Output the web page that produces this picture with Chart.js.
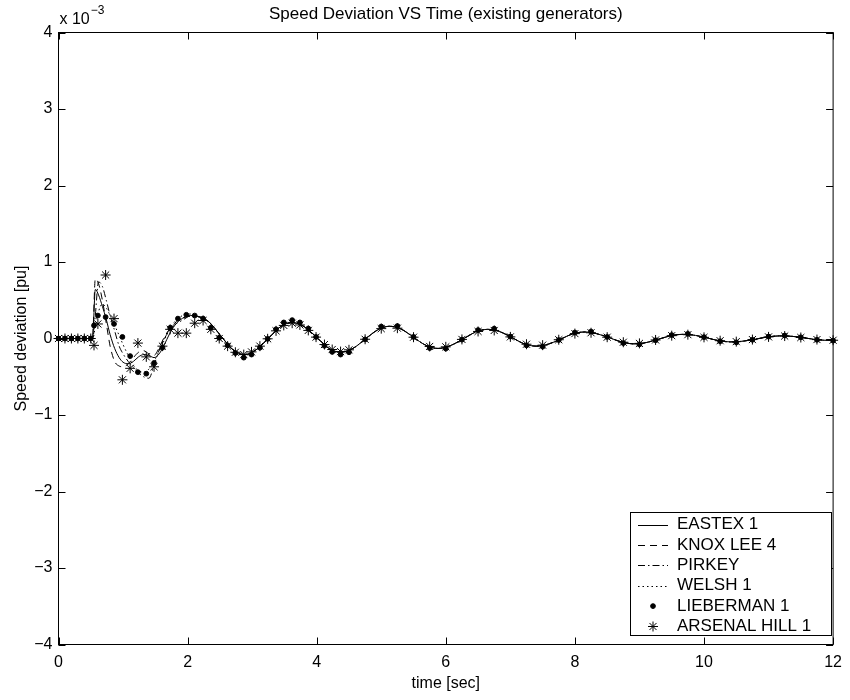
<!DOCTYPE html>
<html>
<head>
<meta charset="utf-8">
<script src="https://cdn.jsdelivr.net/npm/chart.js@4.4.1/dist/chart.umd.min.js"></script>
<style>
    html, body { margin: 0; padding: 0; background: #fff; }
</style>
</head>
<body>
<canvas id="speed-chart" width="850" height="700"></canvas>
<script>
// values in units of 1e-3 pu (axis carries the "x 10^-3" factor)
const headTime = [0, 0.5, 0.53, 0.57, 0.62, 0.68, 0.74, 0.8, 0.87, 0.94, 1.0, 1.08, 1.16, 1.24, 1.32, 1.4, 1.48, 1.56, 1.64, 1.72, 1.8, 1.88, 1.96, 2.05];
const eastexHead = [0, 0, 0.02, 0.64, 0.57, 0.42, 0.25, 0.05, -0.13, -0.25, -0.31, -0.33, -0.30, -0.24, -0.21, -0.22, -0.25, -0.20, -0.08, 0.06, 0.17, 0.24, 0.28, 0.30];
const knoxHead = [0, 0, 0.05, 0.78, 0.72, 0.50, 0.20, -0.10, -0.30, -0.36, -0.37, -0.33, -0.25, -0.18, -0.16, -0.20, -0.22, -0.12, 0.02, 0.12, 0.20, 0.25, 0.28, 0.29];
const pirkeyHead = [0, 0, 0, 0.30, 0.74, 0.68, 0.50, 0.30, 0.10, -0.10, -0.20, -0.30, -0.38, -0.45, -0.50, -0.52, -0.35, -0.15, 0.00, 0.10, 0.18, 0.22, 0.26, 0.30];
const welshHead = [0, 0, 0, 0.15, 0.35, 0.45, 0.40, 0.30, 0.17, 0.04, -0.08, -0.22, -0.35, -0.42, -0.44, -0.40, -0.30, -0.16, -0.02, 0.12, 0.22, 0.28, 0.31, 0.32];

// after ~2 s the four lines sit on top of each other
const tailTime = [2.15, 2.33, 2.51, 2.69, 2.87, 3.06, 3.25, 3.43, 3.62, 3.81, 4.0, 4.18, 4.37, 4.56, 4.75, 4.94, 5.13, 5.32, 5.5, 5.69, 5.88, 6.07, 6.27, 6.46, 6.65, 6.84, 7.03, 7.21, 7.4, 7.59, 7.78, 7.96, 8.15, 8.34, 8.54, 8.73, 8.92, 9.11, 9.3, 9.49, 9.68, 9.87, 10.06, 10.24, 10.43, 10.62, 10.82, 11.01, 11.2, 11.39, 11.58, 11.76, 11.95, 12.0];
const tailWave = [0.29, 0.217, 0.04, -0.137, -0.21, -0.148, 0, 0.148, 0.21, 0.153, 0.015, -0.123, -0.18, -0.13, -0.01, 0.11, 0.16, 0.118, 0.015, -0.088, -0.13, -0.093, -0.005, 0.083, 0.12, 0.088, 0.01, -0.068, -0.10, -0.073, -0.008, 0.058, 0.085, 0.062, 0.008, -0.047, -0.07, -0.052, -0.008, 0.037, 0.055, 0.04, 0.005, -0.03, -0.045, -0.033, -0.005, 0.023, 0.035, 0.026, 0.005, -0.016, -0.025, -0.024];

const markTime = [0, 0.1, 0.2, 0.3, 0.4, 0.5, 0.55, 0.61, 0.73, 0.86, 0.99, 1.11, 1.23, 1.36, 1.48, 1.61, 1.73, 1.85, 1.98, 2.11, 2.24, 2.36, 2.49, 2.62, 2.74, 2.87,
    2.99, 3.12, 3.24, 3.37, 3.49, 3.62, 3.74, 3.87, 3.99, 4.12, 4.24, 4.37, 4.5, 4.75, 5.0, 5.25, 5.5, 5.75, 6.0, 6.25, 6.5, 6.75, 7.0, 7.25, 7.5, 7.75, 8.0, 8.25, 8.5, 8.75, 9.0, 9.25, 9.5, 9.75, 10.0, 10.25, 10.5, 10.75, 11.0, 11.25, 11.5, 11.75, 12.0];
const liebermanVals = [0, 0, 0, 0, 0, 0, 0.17, 0.30, 0.28, 0.19, 0.02, -0.23, -0.44, -0.46, -0.32, -0.12, 0.14, 0.26, 0.31, 0.30, 0.26, 0.14, 0.01, -0.09, -0.19, -0.25,
    -0.21, -0.12, -0.005, 0.12, 0.21, 0.24, 0.21, 0.13, 0.02, -0.095, -0.175, -0.21, -0.18, -0.012, 0.156, 0.163, 0.02, -0.125, -0.132, -0.015, 0.11, 0.128, 0.025, -0.09, -0.106, -0.02, 0.077, 0.09, 0.02, -0.06, -0.077, -0.023, 0.045, 0.061, 0.018, -0.036, -0.05, -0.017, 0.025, 0.039, 0.016, -0.017, -0.028];
const arsenalVals = [0, 0, 0, 0, 0, 0, -0.09, 0.19, 0.83, 0.26, -0.54, -0.39, -0.06, -0.24, -0.37, -0.10, 0.12, 0.07, 0.07, 0.20, 0.235, 0.12, 0.0, -0.10, -0.18, -0.21,
    -0.175, -0.1, -0.004, 0.1, 0.171, 0.2, 0.177, 0.106, 0.018, -0.079, -0.144, -0.171, -0.148, -0.01, 0.129, 0.135, 0.017, -0.104, -0.109, -0.012, 0.092, 0.105, 0.021, -0.075, -0.087, -0.016, 0.064, 0.075, 0.017, -0.049, -0.064, -0.019, 0.037, 0.05, 0.015, -0.029, -0.041, -0.014, 0.021, 0.032, 0.013, -0.014, -0.023];

const xTicks = [0, 2, 4, 6, 8, 10, 12];
const yTicks = [-4, -3, -2, -1, 0, 1, 2, 3, 4];

const FONT = '"Liberation Sans", Arial, Helvetica, sans-serif';
const lineTime = headTime.concat(tailTime);

function lineSeries(label, head, dash) {
    const vals = head.concat(tailWave);
    return {
        label,
        data: lineTime.map((t, i) => ({ x: t, y: vals[i] })),
        borderColor: '#000',
        borderWidth: 1,
        borderDash: dash,
        pointRadius: 0,
        cubicInterpolationMode: 'monotone',
        fill: false,
    };
}

function markerSeries(label, vals, style, radius) {
    return {
        label,
        data: markTime.map((t, i) => ({ x: t, y: vals[i] })),
        showLine: false,
        pointStyle: style,
        pointRadius: radius,
        pointBorderWidth: 1,
        pointBackgroundColor: '#000',
        pointBorderColor: '#000',
        clip: false,
    };
}

const minus = (v) => String(v).replace('-', '\u2212');

// MATLAB style box with inward ticks, exponent label and legend
const matlabFrame = {
    id: 'matlabFrame',
    afterDatasetsDraw(chart) {
        const { ctx, chartArea: a, scales } = chart;
        ctx.save();
        ctx.strokeStyle = '#000';
        ctx.lineWidth = 1;
        ctx.setLineDash([]);
        ctx.beginPath();
        xTicks.forEach((v) => {
            const px = Math.round(scales.x.getPixelForValue(v)) + 0.5;
            ctx.moveTo(px, a.bottom);
            ctx.lineTo(px, a.bottom - 7);
            ctx.moveTo(px, a.top);
            ctx.lineTo(px, a.top + 7);
        });
        yTicks.forEach((v) => {
            const py = Math.round(scales.y.getPixelForValue(v)) + 0.5;
            ctx.moveTo(a.left, py);
            ctx.lineTo(a.left + 7, py);
            ctx.moveTo(a.right, py);
            ctx.lineTo(a.right - 7, py);
        });
        ctx.stroke();
        ctx.strokeRect(a.left, a.top, a.right - a.left, a.bottom - a.top);

        ctx.fillStyle = '#000';
        ctx.textBaseline = 'middle';
        ctx.textAlign = 'left';
        ctx.font = '16px ' + FONT;
        ctx.fillText('x 10', a.left + 1, 20);
        const w = ctx.measureText('x 10').width;
        ctx.font = '12px ' + FONT;
        ctx.fillText('\u22123', a.left + 2 + w, 11);
        ctx.restore();
    },
    afterDraw(chart) {
        const { ctx } = chart;
        const x0 = 630.5, y0 = 512.5, w = 201, h = 123;
        ctx.save();
        ctx.fillStyle = '#fff';
        ctx.fillRect(x0, y0, w, h);
        ctx.strokeStyle = '#000';
        ctx.lineWidth = 1;
        ctx.strokeRect(x0, y0, w, h);
        ctx.font = '17px ' + FONT;
        ctx.textBaseline = 'middle';
        ctx.textAlign = 'left';
        chart.data.datasets.forEach((ds, i) => {
            const y = y0 + 12 + i * 20.4;
            ctx.fillStyle = '#000';
            ctx.strokeStyle = '#000';
            if (ds.showLine === false) {
                Chart.helpers.drawPoint(ctx, {
                    pointStyle: ds.pointStyle,
                    radius: ds.pointRadius,
                    borderWidth: 1,
                    rotation: 0,
                }, 653, y);
            } else {
                ctx.setLineDash(ds.borderDash);
                ctx.beginPath();
                ctx.moveTo(638, Math.round(y) + 0.5);
                ctx.lineTo(668, Math.round(y) + 0.5);
                ctx.stroke();
                ctx.setLineDash([]);
            }
            ctx.fillText(ds.label, 677, y);
        });
        ctx.restore();
    },
};

new Chart(document.getElementById('speed-chart'), {
    type: 'line',
    data: {
        datasets: [
            lineSeries('EASTEX 1', eastexHead, []),
            lineSeries('KNOX LEE 4', knoxHead, [7, 5]),
            lineSeries('PIRKEY', pirkeyHead, [7, 3, 1.5, 3]),
            lineSeries('WELSH 1', welshHead, [1.5, 3]),
            markerSeries('LIEBERMAN 1', liebermanVals, 'circle', 2.4),
            markerSeries('ARSENAL HILL 1', arsenalVals, 'star', 5),
        ],
    },
    options: {
        responsive: false,
        animation: false,
        events: [],
        layout: { padding: { left: 0, right: 16.5, top: 0, bottom: 0 } },
        plugins: {
            legend: { display: false },
            tooltip: { enabled: false },
            title: {
                display: true,
                text: 'Speed Deviation VS Time (existing generators)',
                color: '#000',
                fullSize: false,
                font: { family: FONT, size: 17, weight: 'normal' },
                padding: { top: 4, bottom: 8.1 },
            },
        },
        scales: {
            x: {
                type: 'linear',
                min: 0,
                max: 12,
                afterFit(scale) { scale.height = 55.5; },
                afterBuildTicks(scale) { scale.ticks = xTicks.map((v) => ({ value: v })); },
                grid: { display: false, drawTicks: false },
                border: { display: false },
                ticks: {
                    color: '#000',
                    padding: 8,
                    maxRotation: 0,
                    font: { family: FONT, size: 16 },
                    callback: minus,
                },
                title: {
                    display: true,
                    text: 'time [sec]',
                    color: '#000',
                    font: { family: FONT, size: 16 },
                    padding: { top: 0, bottom: 7 },
                },
            },
            y: {
                type: 'linear',
                min: -4,
                max: 4,
                afterFit(scale) { scale.width = 58.5; },
                afterBuildTicks(scale) { scale.ticks = yTicks.map((v) => ({ value: v })); },
                grid: { display: false, drawTicks: false },
                border: { display: false },
                ticks: {
                    color: '#000',
                    padding: 6,
                    font: { family: FONT, size: 16 },
                    callback: minus,
                },
                title: {
                    display: true,
                    text: 'Speed deviation [pu]',
                    color: '#000',
                    font: { family: FONT, size: 16 },
                    padding: { top: 12, bottom: 0 },
                },
            },
        },
    },
    plugins: [matlabFrame],
});
</script>
</body>
</html>
